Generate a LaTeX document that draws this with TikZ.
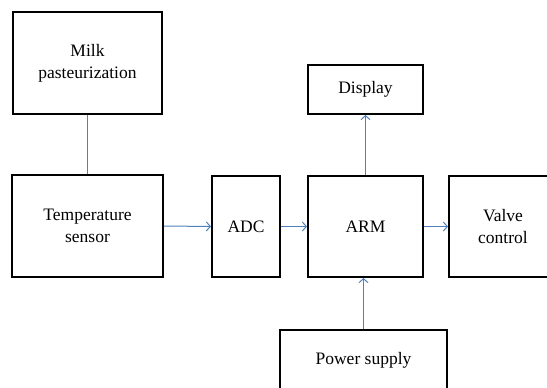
\documentclass[tikz,border=0pt]{standalone}
\usepackage{fontspec}
\setmainfont{Liberation Serif}
\usepackage{xcolor}
\usetikzlibrary{arrows.meta}
\definecolor{linkblue}{HTML}{4F81BD}

\begin{document}
\begin{tikzpicture}[x=1pt, y=-1pt,
  every node/.style={font=\fontsize{17.5}{22}\selectfont, align=center},
  blockbox/.style={draw=black, line width=2pt, inner sep=0pt},
  link/.style={draw=linkblue, line width=1pt},
  flow/.style={link, -{Straight Barb[length=4pt, width=9pt, line width=1pt]}},
]
\useasboundingbox (0,0) rectangle (547,388);
\clip (0,0) rectangle (547,388);

% Blocks
\node[blockbox, minimum width=149, minimum height=102] (milk)    at (87.5, 63)    {Milk\\pasteurization};
\node[blockbox, minimum width=151, minimum height=102] (temp)    at (87.5, 226)   {Temperature\\sensor};
\node[blockbox, minimum width=68,  minimum height=101] (adc)     at (246, 226.5)  {ADC};
\node[blockbox, minimum width=115, minimum height=101] (arm)     at (365.5, 226.5){ARM};
\node[blockbox, minimum width=108, minimum height=101] (valve)   at (503, 226.5)  {Valve\\control};
\node[blockbox, minimum width=115, minimum height=49]  (display) at (365.5, 89.5) {Display};
\node[blockbox, minimum width=167, minimum height=60]  (power)   at (363.5, 360)  {Power supply};

% Connections
\draw[link] (milk.south) -- (temp.north);
\draw[flow] (temp.east) -- (adc.west);
\draw[flow] (adc.east) -- (arm.west);
\draw[flow] (arm.east) -- (valve.west);
\draw[flow] (arm.north) -- (display.south);
\draw[flow] (power.north) -- (power.north |- arm.south);

\end{tikzpicture}
\end{document}
